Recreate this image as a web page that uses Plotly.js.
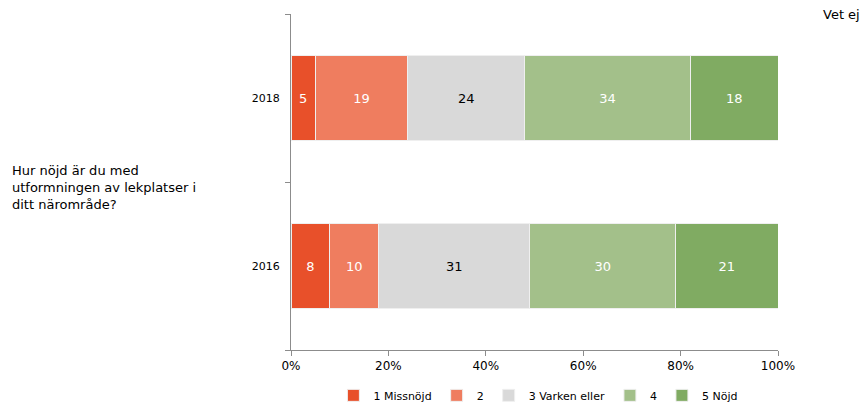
<!DOCTYPE html>
<html>
<head>
<meta charset="utf-8">
<script src="https://cdn.plot.ly/plotly-3.0.1.min.js"></script>
<style>html,body{margin:0;padding:0;background:#fff;}#chart{width:862px;height:404px;}</style>
</head>
<body>
<div id="chart"></div>
<script>
const years = ['2016', '2018'];
const seriesNames = ['1 Missnöjd', '2', '3 Varken eller', '4', '5 Nöjd'];
const missnojd = [8, 5];
const tva = [10, 19];
const varken = [31, 24];
const fyra = [30, 34];
const nojd = [21, 18];
const vetEj = [3, 5];
const vetEjLabel = 'Vet ej';
const question = 'Hur nöjd är du med<br>utformningen av lekplatser i<br>ditt närområde?';

const colors = ['#E8502A', '#EF7D5F', '#D9D9D9', '#A3C08A', '#80AB62'];
const textColors = ['#ffffff', '#ffffff', '#000000', '#ffffff', '#ffffff'];
const allSeries = [missnojd, tva, varken, fyra, nojd];

const font = 'Tahoma, "DejaVu Sans", Verdana, sans-serif';

const traces = allSeries.map((vals, i) => ({
  type: 'bar',
  orientation: 'h',
  name: seriesNames[i],
  y: years,
  x: vals,
  text: vals.map(String),
  textposition: 'inside',
  insidetextanchor: 'middle',
  textfont: {color: textColors[i], size: 13, family: font},
  marker: {color: colors[i], line: {color: '#EFEFEF', width: 1}},
  hoverinfo: 'x+name'
}));

const annotations = [
  {xref: 'paper', yref: 'paper', x: 1.13, y: 1.0, text: vetEjLabel, showarrow: false,
   xanchor: 'center', yanchor: 'middle', font: {size: 13, family: font, color: '#000'}},
  {xref: 'paper', yref: 'paper', x: -0.578, y: 0.485, text: question, showarrow: false,
   xanchor: 'left', yanchor: 'middle', align: 'left', font: {size: 13, family: font, color: '#000'}}
];
vetEj.forEach((v, i) => annotations.push({
  xref: 'paper', yref: 'y', x: 1.13, y: years[i], text: v + '%', showarrow: false,
  xanchor: 'center', font: {size: 13, family: font, color: '#000'}
}));

const layout = {
  width: 862, height: 404,
  margin: {l: 291, r: 84, t: 14, b: 54, autoexpand: false},
  barmode: 'stack',
  bargap: 0.495,
  paper_bgcolor: '#fff', plot_bgcolor: '#fff',
  font: {family: font, size: 12, color: '#000'},
  xaxis: {
    range: [0, 100], tickvals: [0, 20, 40, 60, 80, 100],
    ticktext: ['0%', '20%', '40%', '60%', '80%', '100%'],
    showgrid: false, zeroline: false, showline: true, linecolor: '#8C8C8C', linewidth: 1,
    ticks: 'outside', ticklen: 5, tickcolor: '#8C8C8C', tickfont: {size: 12, family: font},
    automargin: false
  },
  yaxis: {
    type: 'category', categoryorder: 'array', categoryarray: years,
    range: [-0.5, 1.5],
    showgrid: false, zeroline: false, showline: true, linecolor: '#8C8C8C', linewidth: 1,
    ticks: 'outside', tickson: 'boundaries', ticklen: 5, tickcolor: '#8C8C8C',
    tickfont: {size: 11, family: font}, ticklabelstandoff: 8, automargin: false
  },
  legend: {
    orientation: 'h', x: 0.508, xanchor: 'center', y: -0.135, yanchor: 'middle',
    font: {size: 11, family: font}, traceorder: 'normal', itemwidth: 30
  },
  annotations: annotations,
  showlegend: true
};

Plotly.newPlot('chart', traces, layout, {displayModeBar: false, staticPlot: true});
</script>
</body>
</html>
